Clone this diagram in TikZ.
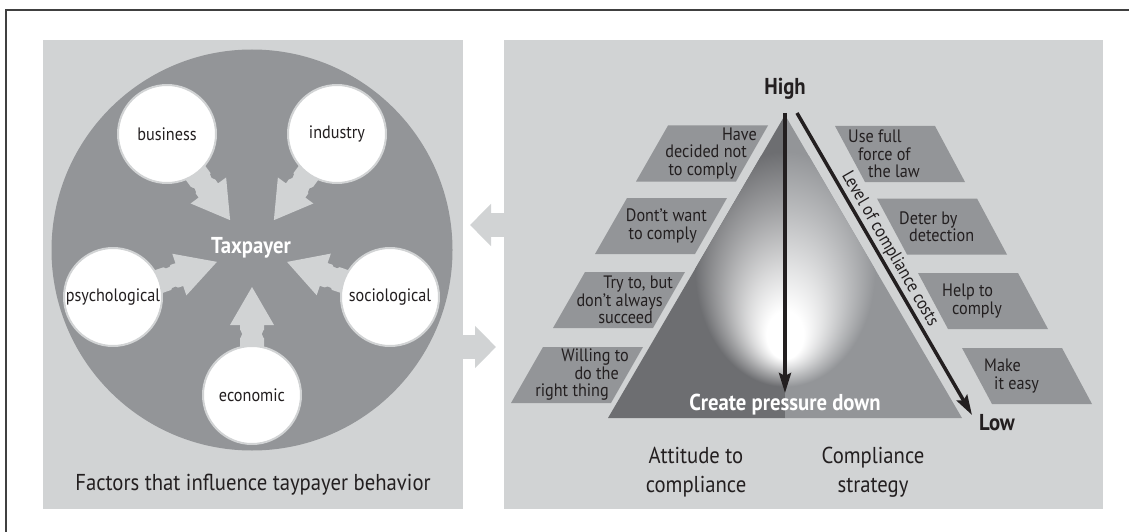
\documentclass[tikz,border=0pt]{standalone}
\usepackage{fontspec}
\setmainfont{PT Sans}[FakeStretch=0.9]
\usetikzlibrary{arrows.meta,calc}
\definecolor{panelgray}{HTML}{D1D3D4}
\definecolor{circgray}{HTML}{939598}
\definecolor{tridark}{HTML}{6D6E71}
\definecolor{inkc}{HTML}{231F20}
\definecolor{framec}{HTML}{404040}
\pgfdeclareradialshading{glowL}{\pgfpoint{0bp}{-6.9bp}}{color(0bp)=(white); color(2bp)=(white); color(4bp)=(white!75!tridark); color(7bp)=(white!35!tridark); color(9.8bp)=(tridark)}
\pgfdeclareradialshading{glowR}{\pgfpoint{0bp}{-6.9bp}}{color(0bp)=(white); color(2bp)=(white); color(4bp)=(white!75!circgray); color(7bp)=(white!35!circgray); color(9.8bp)=(circgray)}
\pgfdeclarelayer{bg}
\pgfdeclarelayer{mid}
\pgfsetlayers{bg,mid,main}
\newcommand\padw[1]{\hbox to #1{}}
\newcommand\factorarrow[2]{%
 \path ($(#1.center)!40pt!(#2)$) coordinate (fa0)
       ($(#1.center)!70pt!(#2)$) coordinate (fa1)
       ($(#1.center)!61pt!(#2)$) coordinate (fa2)
       ($(#2)!37pt!(#1.center)$) coordinate (fat);
 \fill[panelgray] ($(fa0)!12pt!90:(#2)$) -- ($(fa1)!12pt!90:(#2)$) -- ($(fa1)!22pt!90:(#2)$) -- (fat)
   -- ($(fa1)!22pt!-90:(#2)$) -- ($(fa1)!12pt!-90:(#2)$) -- ($(fa0)!12pt!-90:(#2)$) -- cycle;
 \fill[circgray] ($(fa2)!15pt!90:(#2)$) circle (5pt) ($(fa2)!15pt!-90:(#2)$) circle (5pt);
}
\newcommand\lpara[2]{\fill[circgray] ({#1-34},{#2-28}) -- ({#1+66},{#2-28}) -- ({#1+34},{#2+28}) -- ({#1-66},{#2+28}) -- cycle;}
\newcommand\rpara[2]{\fill[circgray] ({#1-65},{#2-28}) -- ({#1+35},{#2-28}) -- ({#1+65},{#2+28}) -- ({#1-35},{#2+28}) -- cycle;}
\begin{document}
\begin{tikzpicture}[x=1pt,y=-1pt,
  panel/.style={rectangle, fill=panelgray, inner sep=0pt, anchor=north west},
  factor/.style={circle, fill=white, draw=panelgray, line width=2pt, minimum size=98pt, inner sep=0pt},
  flabel/.style={font=\fontsize{18}{20}\selectfont, text=inkc},
  paratext/.style={font=\fontsize{18}{17.5}\selectfont, text=inkc, inner sep=0pt},
  bigtext/.style={font=\fontsize{23}{29}\selectfont, text=inkc, align=center, inner sep=0pt},
  boldtext/.style={font=\bfseries\fontsize{23}{27}\selectfont, inner sep=0pt},
  costlab/.style={font=\fontsize{18}{20}\selectfont, text=inkc, inner sep=2pt},
  blackarrow/.style={draw=inkc, line width=3.5pt, -{Stealth[length=20pt,width=12pt,inset=3pt]}},
  panelarrow/.style={draw=panelgray, line width=24pt, -{Triangle[length=21pt,width=41pt]}}]
\useasboundingbox (0,0) rectangle (1129,532);
\draw[framec, line width=1.5pt] (6,532) -- (6,10) -- (1129,10);
\begin{pgfonlayer}{bg}
 \node[panel, minimum width=420pt, minimum height=469pt] (lpanel) at (43,40) {};
 \node[panel, minimum width=599pt, minimum height=469pt] (rpanel) at (504,40) {};
 \node[circle, fill=circgray, minimum size=401pt, inner sep=0pt] (bigc) at (252,250) {};
\end{pgfonlayer}
% factor circles
\node[factor, label={[flabel]center:business}] (bus) at (167,134) {};
\node[factor, label={[flabel]center:industry}] (ind) at (337,134) {};
\node[factor, label={[flabel]center:psychological}] (psy) at (113,297) {};
\node[factor, label={[flabel]center:sociological}] (soc) at (390,297) {};
\node[factor, label={[flabel]center:economic}] (eco) at (252,395) {};
\coordinate (hub) at (252,250);
\begin{pgfonlayer}{mid}
 \factorarrow{bus}{hub}
 \factorarrow{ind}{hub}
 \factorarrow{psy}{hub}
 \factorarrow{soc}{hub}
 \factorarrow{eco}{hub}
\end{pgfonlayer}
\node[boldtext, text=white, anchor=base] (tax) at (251,253) {Taxpayer};
\node[bigtext, anchor=base] (fact) at (253,490) {Factors that influence taypayer behavior};
% arrows between panels
\coordinate (ltip) at (470,225);
\coordinate (rtip) at (496,347);
\draw[panelarrow] (rpanel.west |- ltip) -- (ltip);
\draw[panelarrow] (lpanel.east |- rtip) -- (rtip);
% triangle
\coordinate (apex) at (785,115);
\coordinate (bl) at (608,418);
\coordinate (bm) at (785,418);
\coordinate (br) at (962,418);
\fill[tridark] (apex) -- (bl) -- (bm) -- cycle;
\fill[circgray] (apex) -- (bm) -- (br) -- cycle;
\begin{scope}
 \clip (apex) -- (bl) -- (bm) -- cycle;
 \shade[shading=glowL] (785,269) ellipse [x radius=230pt, y radius=300pt];
\end{scope}
\begin{scope}
 \clip (apex) -- (bm) -- (br) -- cycle;
 \shade[shading=glowR] (785,269) ellipse [x radius=230pt, y radius=300pt];
\end{scope}
% parallelograms
\lpara{702}{153.5}
\lpara{661}{226}
\lpara{619}{300}
\lpara{577}{375}
\rpara{900}{154}
\rpara{942}{226.5}
\rpara{983}{301}
\rpara{1027}{376}
\node[paratext, align=right, anchor=east] (l1) at (757,153.5) {Have\\decided not\padw{10pt}\\to comply\padw{20pt}};
\node[paratext, align=right, anchor=east] (l2) at (707,226) {Dont’t want\\to comply\padw{10pt}};
\node[paratext, align=right, anchor=east] (l3) at (673,300) {Try to, but\\don’t always\padw{10pt}\\succeed\padw{20pt}};
\node[paratext, align=right, anchor=east] (l4) at (629,375) {Willing to\\do the\padw{10pt}\\right thing\padw{20pt}};
\node[paratext, align=left, anchor=west] (r1) at (848,154) {Use full\\\padw{10pt}force of\\\padw{20pt}the law};
\node[paratext, align=left, anchor=west] (r2) at (899,226.5) {Deter by\\\padw{10pt}detection};
\node[paratext, align=left, anchor=west] (r3) at (942,301) {Help to\\\padw{10pt}comply};
\node[paratext, align=left, anchor=west] (r4) at (984,376) {Make\\\padw{10pt}it easy};
% black arrows
\coordinate (vtop) at (785,113);
\coordinate (vtip) at (785,393);
\draw[blackarrow] (vtop) -- (vtip);
\coordinate (dstart) at (797,113);
\coordinate (dend) at (972,415);
\draw[blackarrow] (dstart) -- node[costlab, sloped, above, pos=0.47] (costs) {Level of compliance costs} (dend);
\node[boldtext, text=inkc, anchor=base] (high) at (785,95) {High};
\node[boldtext, text=inkc, anchor=base] (low) at (997,430) {Low};
\node[boldtext, text=white, anchor=base] (press) at (785,410) {Create pressure down};
\node[bigtext] (att) at (696,472) {Attitude to\\compliance};
\node[bigtext] (strat) at (873,472) {Compliance\\strategy};
\end{tikzpicture}
\end{document}
